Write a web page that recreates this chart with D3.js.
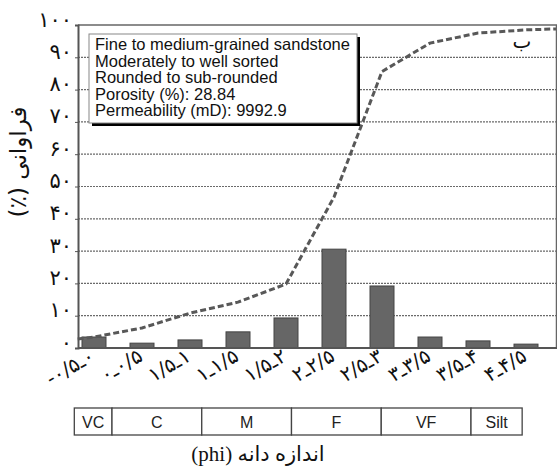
<!DOCTYPE html>
<html><head><meta charset="utf-8">
<script src="https://cdn.jsdelivr.net/npm/d3@7/dist/d3.min.js"></script>
<style>body{margin:0;background:#fff}svg{display:block}</style>
</head><body><svg id="c" width="557" height="468"></svg>
<script>
// ---- data ----
const categories = ["-۰/۵ـ۰","۰ـ۰/۵","۱/۵ـ۱","۱ـ۱/۵","۱/۵ـ۲","۲ـ۲/۵","۲/۵ـ۳","۳ـ۳/۵","۳/۵ـ۴","۴ـ۴/۵"];
const frequency = [3.4, 1.5, 2.5, 5.0, 9.3, 30.6, 19.2, 3.4, 2.2, 1.2];
const cumPhi = [-0.42, -0.25, 0.25, 0.75, 1.25, 1.75, 2.25, 2.75, 3.25, 3.75, 4.25, 4.58];
const cumulative = [2.8, 3.4, 6.2, 10.8, 14.2, 19.8, 46.7, 85.6, 94.4, 97.5, 98.5, 98.8];
const yTicks = [0, 10, 20, 30, 40, 50, 60, 70, 80, 90, 100];
const classNames = ["VC", "C", "M", "F", "VF", "Silt"];
const classFrom = [-0.42, 0, 1, 2, 3, 4];
const classTo = [0, 1, 2, 3, 4, 4.57];
const infoLines = ["Fine to medium-grained sandstone","Moderately to well sorted","Rounded to sub-rounded","Porosity (%): 28.84","Permeability (mD): 9992.9"];
const yTitle = "فراوانی (٪)";
const xTitle = "اندازه دانه (phi)";
const panelLetter = "ب";

// ---- layout ----
const svg = d3.select("#c");
const L = 78, R = 557, T = 25, B = 348;
const fa = n => String(n).replace(/\d/g, d => "۰۱۲۳۴۵۶۷۸۹"[d]);

const y = d3.scaleLinear().domain([0, 100]).range([B, T]);
const x = d3.scaleBand().domain(categories).range([70, 550]).paddingInner(0.5).paddingOuter(0.25);
const xPhi = d3.scaleLinear().domain([-0.5, 4.5]).range([70, 550]);
const xClass = d3.scaleLinear().domain([0, 4]).range([112, 471]);

// gridlines
svg.append("g").selectAll("line").data(yTicks.filter(v => v > 0 && v < 100)).join("line")
  .attr("x1", L).attr("x2", R).attr("y1", d => y(d)).attr("y2", d => y(d))
  .attr("stroke", "#6a6a6a").attr("stroke-width", 1.2).attr("stroke-dasharray", "2,1");

// bars
svg.append("g").selectAll("rect").data(frequency).join("rect")
  .attr("x", (d, i) => x(categories[i]))
  .attr("width", x.bandwidth())
  .attr("y", d => y(d))
  .attr("height", d => B - y(d))
  .attr("fill", "#666").attr("stroke", "#444").attr("stroke-width", 1);

// cumulative line
const line = d3.line().x((d, i) => xPhi(cumPhi[i])).y(d => y(d));
svg.append("path").datum(cumulative).attr("d", line)
  .attr("fill", "none").attr("stroke", "#585858").attr("stroke-width", 3)
  .attr("stroke-dasharray", "6,3");

// frame
svg.append("line").attr("x1", L).attr("x2", R).attr("y1", T).attr("y2", T)
  .attr("stroke", "#666").attr("stroke-width", 1.5);
svg.append("line").attr("x1", R - 0.5).attr("x2", R - 0.5).attr("y1", T).attr("y2", B)
  .attr("stroke", "#666").attr("stroke-width", 1.5);

// y axis
const yAxis = d3.axisLeft(y).tickValues(yTicks).tickFormat(fa).tickSize(3).tickPadding(3);
const gy = svg.append("g").attr("transform", `translate(${L},0)`).call(yAxis);
gy.select(".domain").attr("stroke", "#555").attr("stroke-width", 2);
gy.selectAll(".tick line").attr("stroke", "#555");
gy.selectAll(".tick text").attr("font-family", "DejaVu Sans").attr("font-size", 21)
  .attr("fill", "#111").attr("dy", "0.05em");

// x axis
const xAxis = d3.axisBottom(x).tickSize(0).tickPadding(0);
const gx = svg.append("g").attr("transform", `translate(0,${B})`).call(xAxis);
gx.select(".domain").attr("d", `M${L},0H${R}`).attr("stroke", "#555").attr("stroke-width", 2);
gx.selectAll(".tick text")
  .attr("font-family", "DejaVu Sans").attr("font-size", 20).attr("fill", "#111")
  .attr("text-anchor", "end").attr("dy", 0).attr("y", 0)
  .attr("transform", "translate(2,12) rotate(-30)")
  .attr("direction", "ltr").attr("unicode-bidi", "bidi-override")
  .style("unicode-bidi", "bidi-override").style("direction", "ltr");

// info box
const bx = 89, by = 34, bw = 268, bh = 89;
svg.append("rect").attr("x", bx + 3).attr("y", by + 3).attr("width", bw).attr("height", bh).attr("fill", "#000");
svg.append("rect").attr("x", bx).attr("y", by).attr("width", bw).attr("height", bh)
  .attr("fill", "#fff").attr("stroke", "#888").attr("stroke-width", 1);
svg.append("g").selectAll("text").data(infoLines).join("text")
  .attr("x", bx + 6).attr("y", (d, i) => by + 16 + i * 16.5)
  .attr("font-family", "Liberation Sans, Arial, sans-serif").attr("font-size", 16.5).attr("fill", "#111")
  .text(d => d);

// panel letter
svg.append("text").attr("x", 522).attr("y", 48).attr("text-anchor", "middle")
  .attr("font-family", "DejaVu Sans").attr("font-size", 20).attr("fill", "#111").text(panelLetter);

// y title
svg.append("text").attr("transform", "translate(26,162) rotate(-90)")
  .attr("text-anchor", "middle").attr("direction", "rtl").style("direction", "rtl")
  .attr("font-family", "DejaVu Sans").attr("font-size", 23).attr("fill", "#111").text(yTitle);

// grain-size class strip
const sy = 408, sh = 27;
const gc = svg.append("g");
gc.selectAll("rect").data(classNames).join("rect")
  .attr("x", (d, i) => xClass(classFrom[i])).attr("y", sy)
  .attr("width", (d, i) => xClass(classTo[i]) - xClass(classFrom[i])).attr("height", sh)
  .attr("fill", "#fff").attr("stroke", "#444").attr("stroke-width", 1.3);
gc.selectAll("text").data(classNames).join("text")
  .attr("x", (d, i) => (xClass(classFrom[i]) + xClass(classTo[i])) / 2).attr("y", sy + 20)
  .attr("text-anchor", "middle").attr("font-family", "Liberation Sans, Arial, sans-serif")
  .attr("font-size", 16).attr("fill", "#222").text(d => d);

// x title
svg.append("text").attr("x", 258).attr("y", 461).attr("text-anchor", "middle")
  .attr("direction", "rtl").style("direction", "rtl")
  .attr("font-family", "Liberation Serif, DejaVu Sans").attr("font-size", 21).attr("fill", "#111").text(xTitle);
</script></body></html>
